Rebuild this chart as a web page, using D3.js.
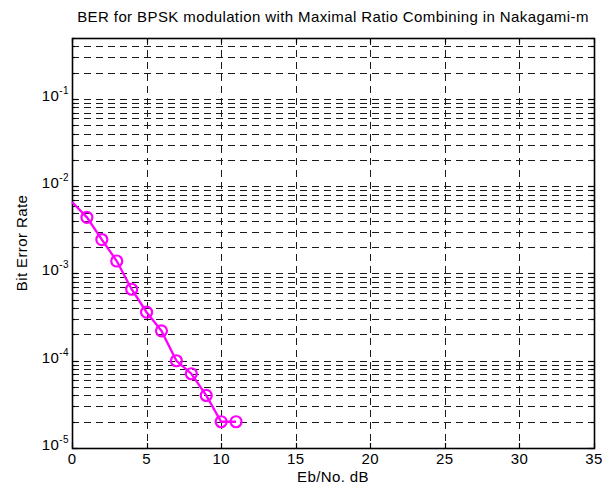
<!DOCTYPE html>
<html>
<head>
<meta charset="UTF-8">
<script src="https://d3js.org/d3.v7.min.js"></script>
<style>
  body { margin: 0; background: #fff; }
  svg { font-family: "Liberation Sans", Arial, sans-serif; letter-spacing: 0.4px; }
</style>
</head>
<body>
<div id="chart"></div>
<script>
// data
const ebno = [0, 1, 2, 3, 4, 5, 6, 7, 8, 9, 10, 11];
const ber = [6.6e-3, 4.4e-3, 2.45e-3, 1.39e-3, 6.6e-4, 3.6e-4, 2.2e-4, 1.0e-4, 7.1e-5, 4.0e-5, 2.0e-5, 2.0e-5];
const markerStart = 1; // no circle drawn at 0 dB
const xTicks = [0, 5, 10, 15, 20, 25, 30, 35];
const yDecades = [-5, -4, -3, -2, -1];

const W = 609, H = 484;
const pLeft = 72, pRight = 594, pTop = 38, pBottom = 448;
const fs = 15;

const svg = d3.select("#chart").append("svg")
  .attr("width", W).attr("height", H);

const x = d3.scaleLinear().domain([0, 35]).range([pLeft, pRight]);
const y = d3.scaleLog().domain([1e-5, 0.5]).range([pBottom, pTop]);

// minor + major log values inside the y range
const yGrid = [];
yDecades.forEach(p => {
  for (let m = 1; m <= 9; m++) {
    const v = m * Math.pow(10, p);
    if (v <= 0.5 + 1e-12) yGrid.push({ v, major: m === 1 });
  }
});

// grid
const grid = svg.append("g")
  .attr("stroke", "#1a1a1a")
  .attr("stroke-width", 1)
  .attr("stroke-dasharray", "7,5");

grid.selectAll("line.h")
  .data(yGrid.filter(d => d.v > 1e-5))
  .enter().append("line")
  .attr("x1", pLeft).attr("x2", pRight)
  .attr("y1", d => Math.round(y(d.v)) + 0.5)
  .attr("y2", d => Math.round(y(d.v)) + 0.5);

grid.selectAll("line.v")
  .data(xTicks.filter(t => t > 0 && t < 35))
  .enter().append("line")
  .attr("y1", pTop).attr("y2", pBottom)
  .attr("x1", d => Math.round(x(d)) + 0.5)
  .attr("x2", d => Math.round(x(d)) + 0.5);

// ticks (inward, all sides)
const ticks = svg.append("g").attr("stroke", "#000").attr("stroke-width", 1.2);
yGrid.forEach(d => {
  const yy = Math.round(y(d.v)) + 0.5;
  const len = d.major ? 6 : 3;
  ticks.append("line").attr("x1", pLeft).attr("x2", pLeft + len).attr("y1", yy).attr("y2", yy);
  ticks.append("line").attr("x1", pRight).attr("x2", pRight - len).attr("y1", yy).attr("y2", yy);
});
xTicks.forEach(t => {
  const xx = Math.round(x(t)) + 0.5;
  ticks.append("line").attr("x1", xx).attr("x2", xx).attr("y1", pBottom).attr("y2", pBottom - 5);
  ticks.append("line").attr("x1", xx).attr("x2", xx).attr("y1", pTop).attr("y2", pTop + 5);
});

// axes box
svg.append("rect")
  .attr("x", pLeft + 0.5).attr("y", pTop + 0.5)
  .attr("width", pRight - pLeft).attr("height", pBottom - pTop)
  .attr("fill", "none").attr("stroke", "#000").attr("stroke-width", 1.6);

// x tick labels
svg.append("g").selectAll("text")
  .data(xTicks).enter().append("text")
  .attr("x", d => x(d)).attr("y", pBottom + 16)
  .attr("text-anchor", "middle")
  .attr("font-size", fs)
  .text(d => d);

// y tick labels 10^p
const yl = svg.append("g").attr("font-size", fs);
yDecades.forEach(p => {
  const t = yl.append("text")
    .attr("x", pLeft - 3).attr("y", y(Math.pow(10, p)) + 2)
    .attr("text-anchor", "end");
  t.append("tspan").text("10");
  t.append("tspan").attr("font-size", 10).attr("dy", -7).text(p);
});

// series
const pts = ebno.map((e, i) => [e, ber[i]]);
svg.append("path")
  .datum(pts)
  .attr("fill", "none")
  .attr("stroke", "#ff00ff")
  .attr("stroke-width", 2.3)
  .attr("d", d3.line().x(d => x(d[0])).y(d => y(d[1])));

svg.append("g").selectAll("circle")
  .data(pts.slice(markerStart)).enter().append("circle")
  .attr("cx", d => x(d[0])).attr("cy", d => y(d[1]))
  .attr("r", 5.5)
  .attr("fill", "none")
  .attr("stroke", "#ff00ff")
  .attr("stroke-width", 2.2);

// labels
svg.append("text")
  .attr("x", (pLeft + pRight) / 2).attr("y", 22)
  .attr("text-anchor", "middle").attr("font-size", fs)
  .text("BER for BPSK modulation with Maximal Ratio Combining in Nakagami-m");

svg.append("text")
  .attr("x", (pLeft + pRight) / 2).attr("y", 482)
  .attr("text-anchor", "middle").attr("font-size", fs)
  .text("Eb/No. dB");

svg.append("text")
  .attr("transform", `translate(27,${(pTop + pBottom) / 2}) rotate(-90)`)
  .attr("text-anchor", "middle").attr("font-size", fs)
  .text("Bit Error Rate");
</script>
</body>
</html>
